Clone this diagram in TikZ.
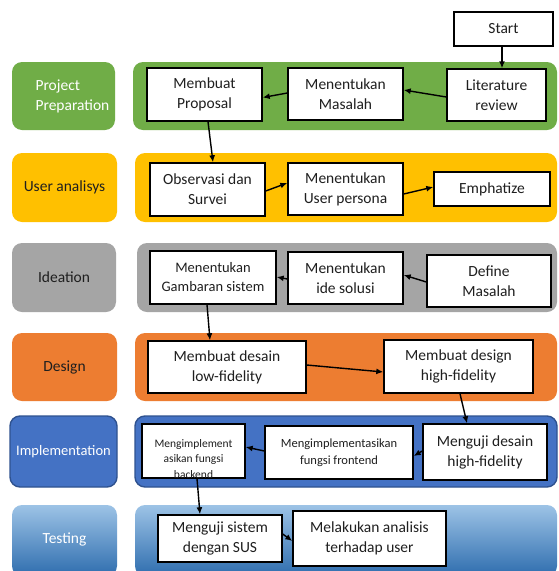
\documentclass[tikz,border=0pt]{standalone}
\usepackage{fontspec}
\setmainfont{Carlito}
\usetikzlibrary{arrows.meta}
\definecolor{cgreen}{HTML}{70AD47}
\definecolor{cyellow}{HTML}{FFC000}
\definecolor{cgray}{HTML}{A5A5A5}
\definecolor{corange}{HTML}{ED7D31}
\definecolor{cblue}{HTML}{4472C4}
\definecolor{cblueedge}{HTML}{2F528F}
\definecolor{ctesttop}{HTML}{9DC3E6}
\definecolor{ctestbot}{HTML}{2E6DAE}
\definecolor{ctext}{HTML}{1F1F1F}
\tikzset{
  stepbox/.style={draw=black, fill=white, line width=1.4pt, align=center, inner sep=1pt,
    text=ctext, font=\fontsize{15.5}{20}\selectfont},
  lab/.style={rounded corners=10pt, align=center, font=\fontsize{15.5}{20}\selectfont},
  band/.style={rounded corners=10pt},
  arr/.style={draw=black, line width=1.4pt, -{Latex[length=7pt,width=6pt]}},
}
\begin{document}
\begin{tikzpicture}[x=1pt,y=-1pt]
\clip (0,0) rectangle (559,571);
\fill[white] (0,0) rectangle (559,571);

% ---------- row bands ----------
\fill[band, cgreen] (12,62) rectangle (115,130);
\fill[band, cgreen] (133,62) rectangle (557,130);
\fill[band, cyellow] (12,153) rectangle (117,222);
\fill[band, cyellow] (135,153) rectangle (557,222);
\fill[band, cgray] (12,243) rectangle (116,312);
\fill[band, cgray] (137,243) rectangle (557,312);
\fill[band, corange] (12,333) rectangle (117,401);
\fill[band, corange] (135,333) rectangle (557,401);
\filldraw[band, fill=cblue, draw=cblueedge, line width=1.4pt] (10,416) rectangle (117,487);
\filldraw[band, fill=cblue, draw=cblueedge, line width=1.4pt] (135,416) rectangle (557,487);
\shade[band, top color=ctesttop, bottom color=ctestbot] (12,505) rectangle (117,576);
\shade[band, top color=ctesttop, bottom color=ctestbot] (135,505) rectangle (557,576);

% ---------- row labels ----------
\node[lab, text=white, align=left, anchor=west] (lpp) at (32,96) {Project\\Preparation};
\node[lab, text=ctext] (lua) at (64.5,187.5) {User analisys};
\node[lab, text=ctext] (lid) at (64,277.5) {Ideation};
\node[lab, text=ctext] (lde) at (64.5,367) {Design};
\node[lab, text=white, font=\fontsize{14.5}{18}\selectfont] (lim) at (63.5,451.5) {Implementation};
\node[lab, text=white] (lte) at (64.5,539) {Testing};

% ---------- step boxes ----------
\node[stepbox, minimum width=99pt, minimum height=34pt] (start) at (503.5,29) {Start};
\node[stepbox, minimum width=99pt, minimum height=52pt] (lit) at (496.5,95) {Literature\\review};
\node[stepbox, minimum width=115pt, minimum height=52pt] (mas) at (345.5,94) {Menentukan\\Masalah};
\node[stepbox, minimum width=115pt, minimum height=53pt] (prop) at (204.5,94.5) {Membuat\\Proposal};

\node[stepbox, minimum width=115pt, minimum height=53pt] (obs) at (207.5,189.5) {Observasi dan\\Survei};
\node[stepbox, minimum width=115pt, minimum height=52pt] (pers) at (345.5,189) {Menentukan\\User persona};
\node[stepbox, minimum width=116pt, minimum height=34pt] (emph) at (492,189) {Emphatize};

\node[stepbox, minimum width=126pt, minimum height=53pt, font=\fontsize{14.5}{19}\selectfont] (gamb) at (213,277.5) {Menentukan\\Gambaran sistem};
\node[stepbox, minimum width=115pt, minimum height=52pt] (ide) at (345.5,278) {Menentukan\\ide solusi};
\node[stepbox, minimum width=124pt, minimum height=52pt] (def) at (489,281) {Define\\Masalah};

\node[stepbox, minimum width=158pt, minimum height=52pt] (low) at (227,367) {Membuat desain\\low-fidelity};
\node[stepbox, minimum width=149pt, minimum height=53pt] (high) at (458.5,366.5) {Membuat design\\high-fidelity};

\node[stepbox, minimum width=103pt, minimum height=54pt] (back) at (193.5,451) {};
\begin{scope}
\clip (back.south west) rectangle (back.north east);
\node[align=center, text=ctext, font=\fontsize{11.5}{15.5}\selectfont] at (193.5,459) {Mengimplement\\asikan fungsi\\backend};
\end{scope}
\draw[line width=1.4pt] (back.south west) rectangle (back.north east);
\node[stepbox, minimum width=148pt, minimum height=53pt, font=\fontsize{12.5}{17}\selectfont] (front) at (339,452.5) {Mengimplementasikan\\fungsi frontend};
\node[stepbox, minimum width=124pt, minimum height=56pt] (meng) at (485,452) {Menguji desain\\high-fidelity};

\node[stepbox, minimum width=124pt, minimum height=47pt] (sus) at (220,538.5) {Menguji sistem\\dengan SUS};
\node[stepbox, minimum width=153pt, minimum height=55pt] (anal) at (369.5,538.5) {Melakukan analisis\\terhadap user};

% ---------- connectors ----------
\draw[arr] ([xshift=-1.5pt]start.south) -- ([xshift=5.5pt]lit.north);
\draw[arr] ([yshift=-2pt]lit.west) -- ([yshift=4pt]mas.east);
\draw[arr] ([yshift=1pt]mas.west) -- ([yshift=-3pt]prop.east);
\draw[arr] ([xshift=3.5pt]prop.south) -- ([xshift=5.5pt]obs.north);
\draw[arr] ([yshift=-1.5pt]obs.east) -- ([yshift=6pt]pers.west);
\draw[arr] ([yshift=-5pt]pers.east) -- ([yshift=2pt]emph.west);
\draw[arr] ([yshift=-1pt]def.west) -- ([yshift=3pt]ide.east);
\draw[arr] ([yshift=-1pt]ide.west) -- ([yshift=0.5pt]gamb.east);
\draw[arr] ([xshift=-6pt]gamb.south) -- ([xshift=-17pt]low.north);
\draw[arr] ([yshift=2pt]low.east) -- ([yshift=-5.5pt]high.west);
\draw[arr] ([xshift=1.5pt]high.south) -- ([xshift=-18pt]meng.north);
\draw[arr] ([yshift=1pt]meng.west) -- ([yshift=-3.5pt]front.east);
\draw[arr] ([yshift=1.5pt]front.west) -- ([yshift=4pt]back.east);
\draw[arr] ([xshift=3.5pt]back.south) -- ([xshift=-20pt]sus.north);
\draw[arr] ([yshift=4.5pt]sus.east) -- ([yshift=-2.5pt]anal.west);
\end{tikzpicture}
\end{document}
